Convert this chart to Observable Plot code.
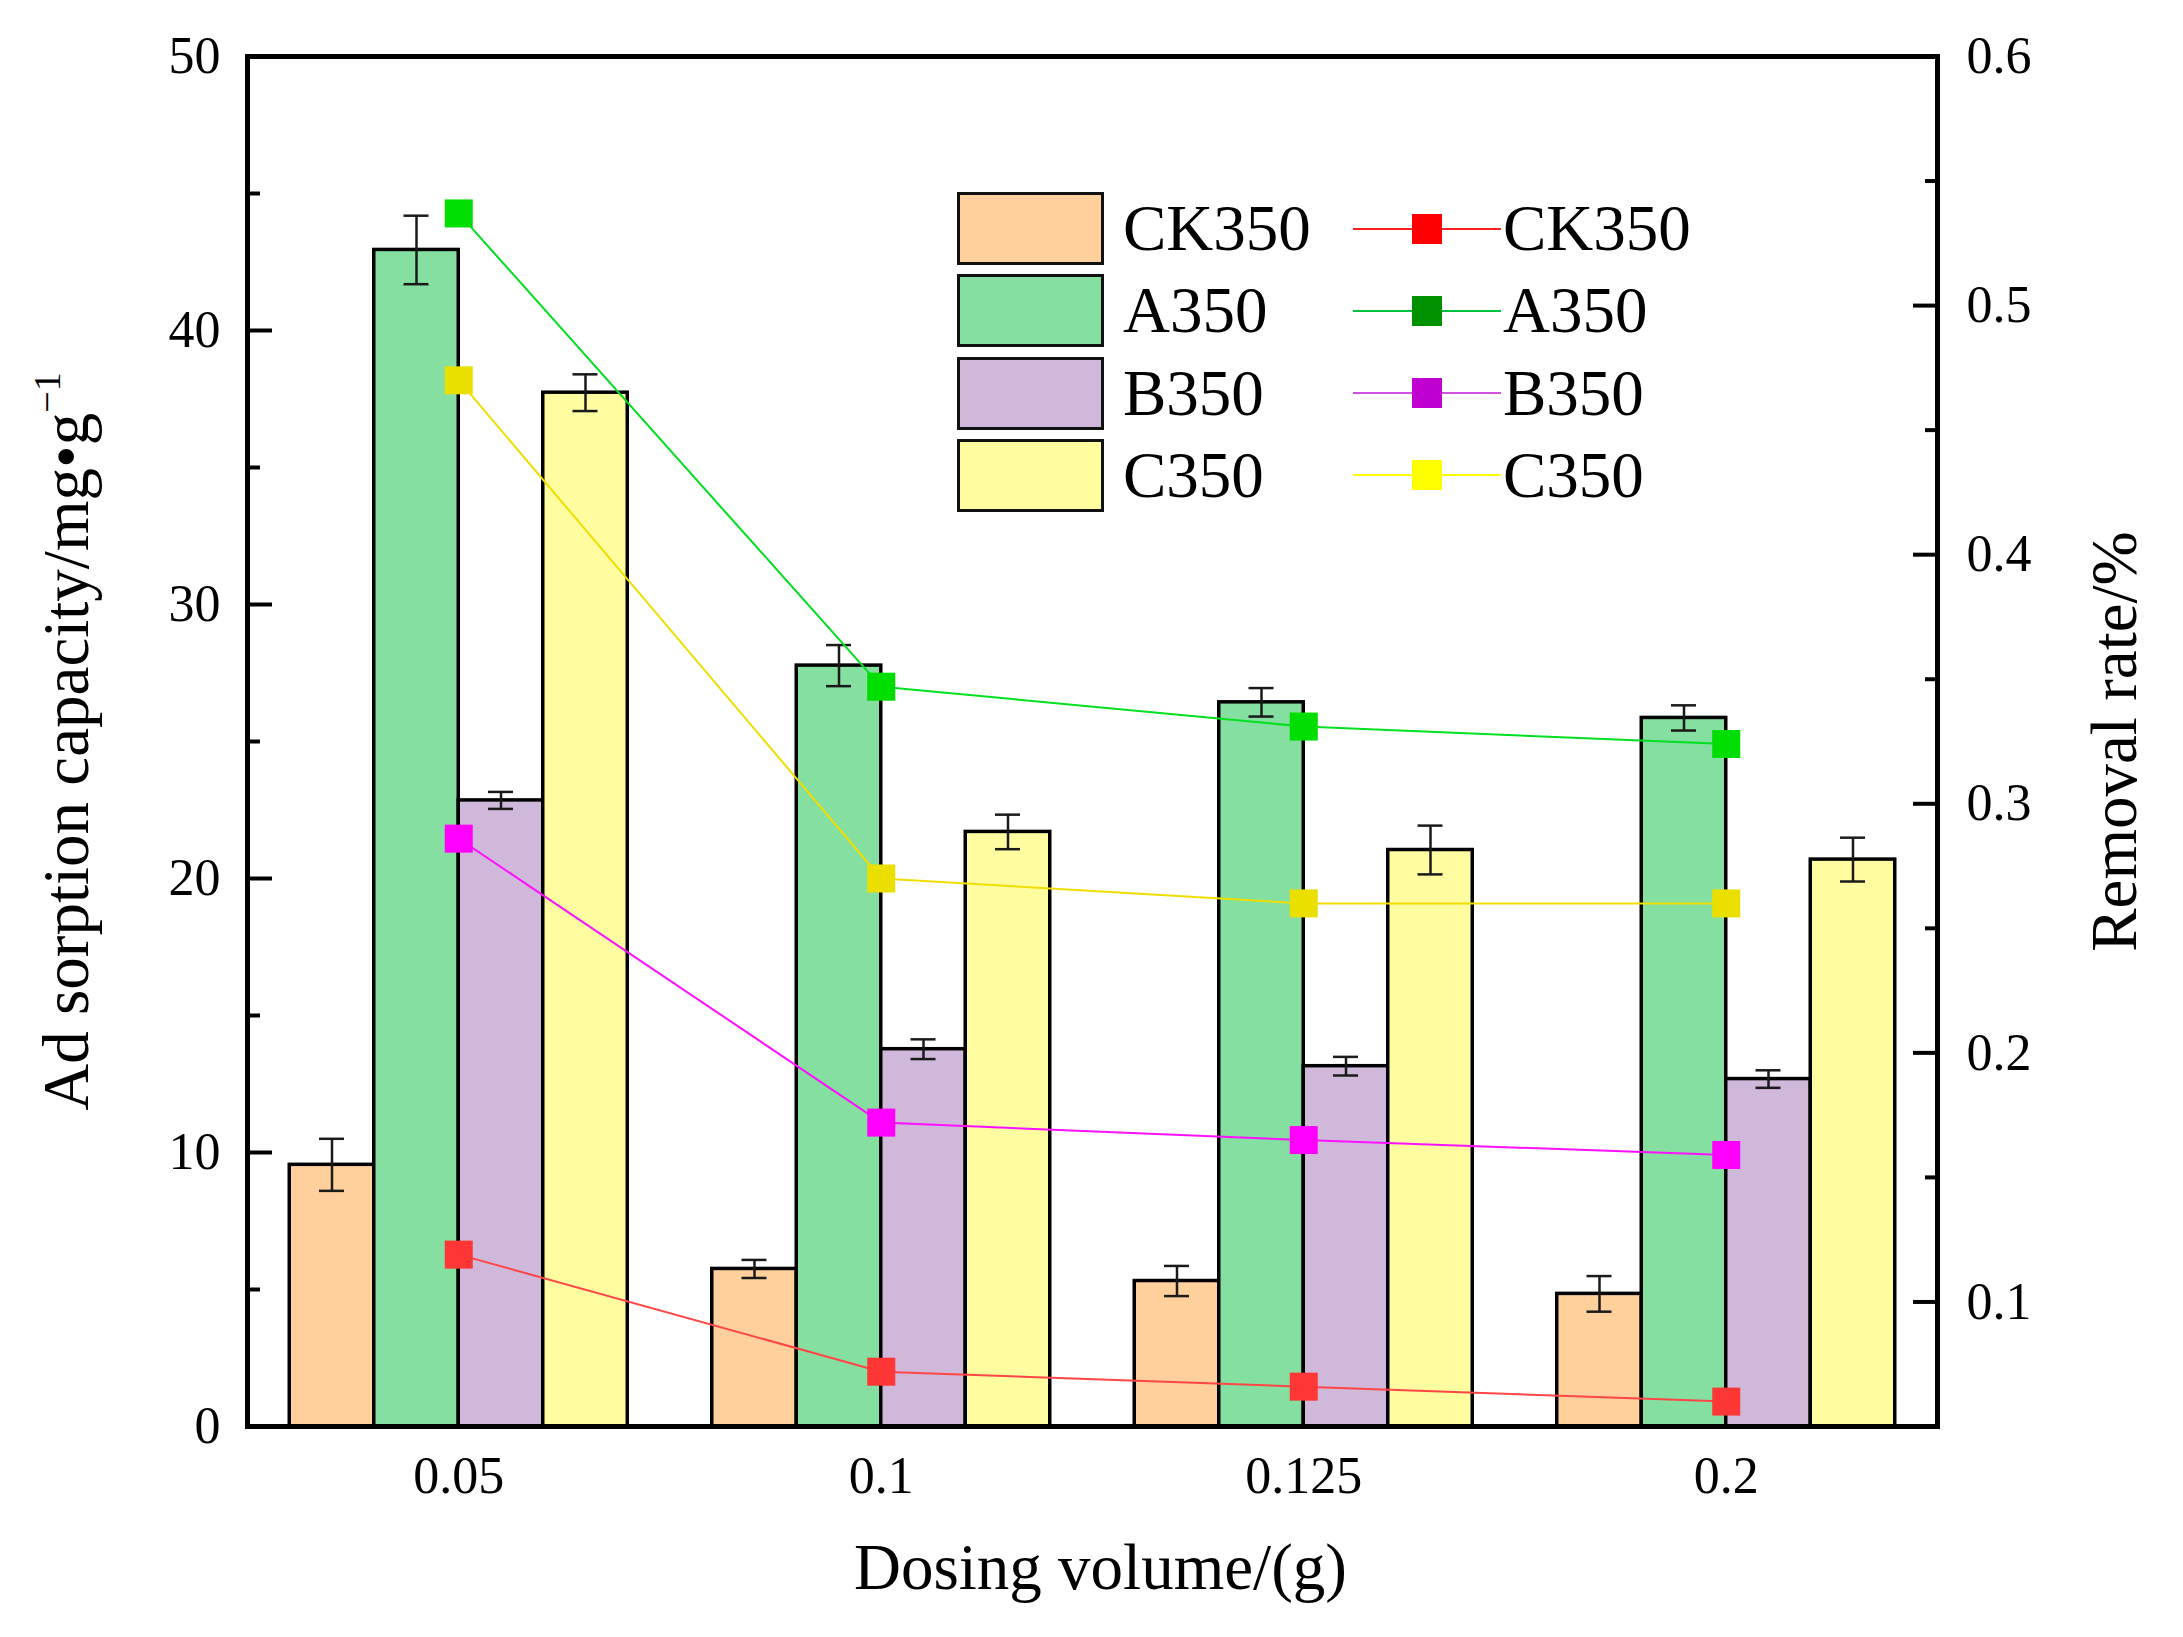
<!DOCTYPE html>
<html>
<head>
<meta charset="utf-8">
<script src="https://cdn.jsdelivr.net/npm/d3@7"></script>
<script src="https://cdn.jsdelivr.net/npm/@observablehq/plot@0.6"></script>
<style>
  body { margin: 0; background: #fff; }
  #wrap { position: relative; width: 2183px; height: 1637px; font-family: "Liberation Serif", "Times New Roman", serif; }
  #legend div { position: absolute; }
  .sw { width: 147px; height: 73px; box-sizing: border-box; border: 3.5px solid #111; }
  .lt { font-size: 65px; line-height: 73px; height: 73px; white-space: nowrap; color: #000; }
  .ln { width: 148px; height: 2px; }
  .mk { width: 30px; height: 30px; }
</style>
</head>
<body>
<div id="wrap">
  <div id="chart"></div>
  <div id="legend"></div>
</div>
<script>
const doses = ['0.05', '0.1', '0.125', '0.2'];
const seriesNames = ['CK350', 'A350', 'B350', 'C350'];

// adsorption capacity, left axis (mg/g)
const capCK = [9.55, 5.75, 5.31, 4.84];
const capA = [42.94, 27.77, 26.43, 25.86];
const capB = [22.85, 13.77, 13.15, 12.68];
const capC = [37.73, 21.70, 21.04, 20.69];

// error bars (+/-)
const errCK = [0.95, 0.33, 0.55, 0.65];
const errA = [1.25, 0.75, 0.52, 0.46];
const errB = [0.31, 0.36, 0.34, 0.32];
const errC = [0.67, 0.63, 0.89, 0.80];

// removal rate, right axis
const rateCK = [0.119, 0.072, 0.066, 0.060];
const rateA = [0.537, 0.347, 0.331, 0.324];
const rateB = [0.286, 0.172, 0.165, 0.159];
const rateC = [0.470, 0.270, 0.260, 0.260];

const leftTicks = [0, 10, 20, 30, 40, 50];
const leftMinor = [5, 15, 25, 35, 45];
const rightTicks = [0.1, 0.2, 0.3, 0.4, 0.5, 0.6];
const rightMinor = [0.15, 0.25, 0.35, 0.45, 0.55];

const barColors = ['#ffd09b', '#84dfa0', '#d0b8db', '#fffda0'];
const lineColors = ['#ff4646', '#00e020', '#ff10ff', '#f0de00'];
const markerColors = ['#ff3636', '#00dd00', '#ff00ff', '#ebdf00'];
const legendLine = ['#ff2020', '#00c040', '#d050e0', '#ffff00'];
const legendMarker = ['#ff0000', '#009000', '#c000d0', '#ffff00'];

const xLabel = 'Dosing volume/(g)';
const yLabel = 'Ad sorption capacity/mg\u2022g';
const y2Label = 'Removal rate/%';

const W = 2183, H = 1637;
const mL = 247, mR = 246, mT = 56, mB = 211;
const plotW = W - mL - mR;

// right axis values are drawn on the left scale
const rate2y = d3.scaleLinear([0.05, 0.6], [0, 50]);

const caps = [capCK, capA, capB, capC];
const errs = [errCK, errA, errB, errC];
const rates = [rateCK, rateA, rateB, rateC];
const barW = 0.2;
const capHalf = 12.5 / (plotW / doses.length);

const bars = seriesNames.flatMap((s, k) => doses.map((d, i) => {
  const x1 = i + (k - 2) * barW;
  return {s, k, i, x1, x2: x1 + barW, xc: x1 + barW / 2,
    v: caps[k][i], lo: caps[k][i] - errs[k][i], hi: caps[k][i] + errs[k][i]};
}));
const rateRows = seriesNames.flatMap((s, k) => doses.map((d, i) => ({s, k, i, y: rate2y(rates[k][i])})));

const marks = [];
seriesNames.forEach((s, k) => {
  const b = bars.filter(d => d.k === k);
  marks.push(Plot.rectY(b, {x1: 'x1', x2: 'x2', y: 'v', fill: barColors[k], stroke: 'black', strokeWidth: 3.5}));
});
marks.push(
  Plot.ruleX(bars, {x: 'xc', y1: 'lo', y2: 'hi', stroke: '#1a1a1a', strokeWidth: 2.5}),
  Plot.ruleY(bars, {y: 'lo', x1: d => d.xc - capHalf, x2: d => d.xc + capHalf, stroke: '#1a1a1a', strokeWidth: 2.5}),
  Plot.ruleY(bars, {y: 'hi', x1: d => d.xc - capHalf, x2: d => d.xc + capHalf, stroke: '#1a1a1a', strokeWidth: 2.5})
);
seriesNames.forEach((s, k) => {
  const r = rateRows.filter(d => d.k === k);
  marks.push(Plot.line(r, {x: 'i', y: 'y', stroke: lineColors[k], strokeWidth: 2}));
});
seriesNames.forEach((s, k) => {
  const r = rateRows.filter(d => d.k === k);
  marks.push(Plot.dot(r, {x: 'i', y: 'y', symbol: 'square', r: 15.8, fill: markerColors[k]}));
});

// inward ticks
marks.push(
  Plot.tickY(leftTicks, {y: d => d, insetRight: plotW - 25, stroke: 'black', strokeWidth: 4}),
  Plot.tickY(leftMinor, {y: d => d, insetRight: plotW - 13, stroke: 'black', strokeWidth: 4}),
  Plot.tickY(rightTicks, {y: d => rate2y(d), insetLeft: plotW - 24, stroke: 'black', strokeWidth: 4}),
  Plot.tickY(rightMinor, {y: d => rate2y(d), insetLeft: plotW - 12, stroke: 'black', strokeWidth: 4}),
  Plot.axisY(leftTicks, {anchor: 'left', tickSize: 0, tickPadding: 27, label: null}),
  Plot.axisY(rightTicks.map(r => rate2y(r)), {anchor: 'right', tickSize: 0, tickPadding: 29, label: null,
    tickFormat: y => String(+rate2y.invert(y).toFixed(2))}),
  Plot.axisX(doses.map((d, i) => i), {anchor: 'bottom', tickSize: 0, tickPadding: 30, label: null,
    tickFormat: i => doses[i]}),
  Plot.frame({stroke: 'black', strokeWidth: 5}),
  Plot.text([xLabel], {text: d => d, frameAnchor: 'bottom', dx: 8, dy: 142, lineAnchor: 'middle', fontSize: 65}),
  Plot.text([yLabel], {text: d => d, frameAnchor: 'left', rotate: -90, dx: -180, lineAnchor: 'middle', textAnchor: 'middle', fontSize: 65}),
  Plot.text([y2Label], {text: d => d, frameAnchor: 'right', rotate: -90, dx: 178, lineAnchor: 'middle', textAnchor: 'middle', fontSize: 65})
);

const chart = Plot.plot({
  width: W,
  height: H,
  marginLeft: mL,
  marginRight: mR,
  marginTop: mT,
  marginBottom: mB,
  style: {fontFamily: '"Liberation Serif", "Times New Roman", serif', fontSize: '52px', background: 'white', color: 'black', overflow: 'visible'},
  x: {domain: [-0.5, doses.length - 0.5]},
  y: {domain: [0, 50]},
  marks
});

// superscript -1 on the left label
d3.select(chart).selectAll('text')
  .filter(function () { return this.textContent === yLabel; })
  .append('tspan').attr('dy', -28).attr('font-size', 38).text('\u22121');

d3.select('#chart').append(() => chart);

// legend inside the frame
const legend = d3.select('#legend');
seriesNames.forEach((s, k) => {
  const top = 192 + k * 82.3;
  legend.append('div').attr('class', 'sw').style('left', '957px').style('top', top + 'px').style('background', barColors[k]);
  legend.append('div').attr('class', 'lt').style('left', '1123px').style('top', top + 'px').text(s);
  legend.append('div').attr('class', 'ln').style('left', '1353px').style('top', (top + 35.5) + 'px').style('background', legendLine[k]);
  legend.append('div').attr('class', 'mk').style('left', '1412px').style('top', (top + 21.5) + 'px').style('background', legendMarker[k]);
  legend.append('div').attr('class', 'lt').style('left', '1503px').style('top', top + 'px').text(s);
});
</script>
</body>
</html>
